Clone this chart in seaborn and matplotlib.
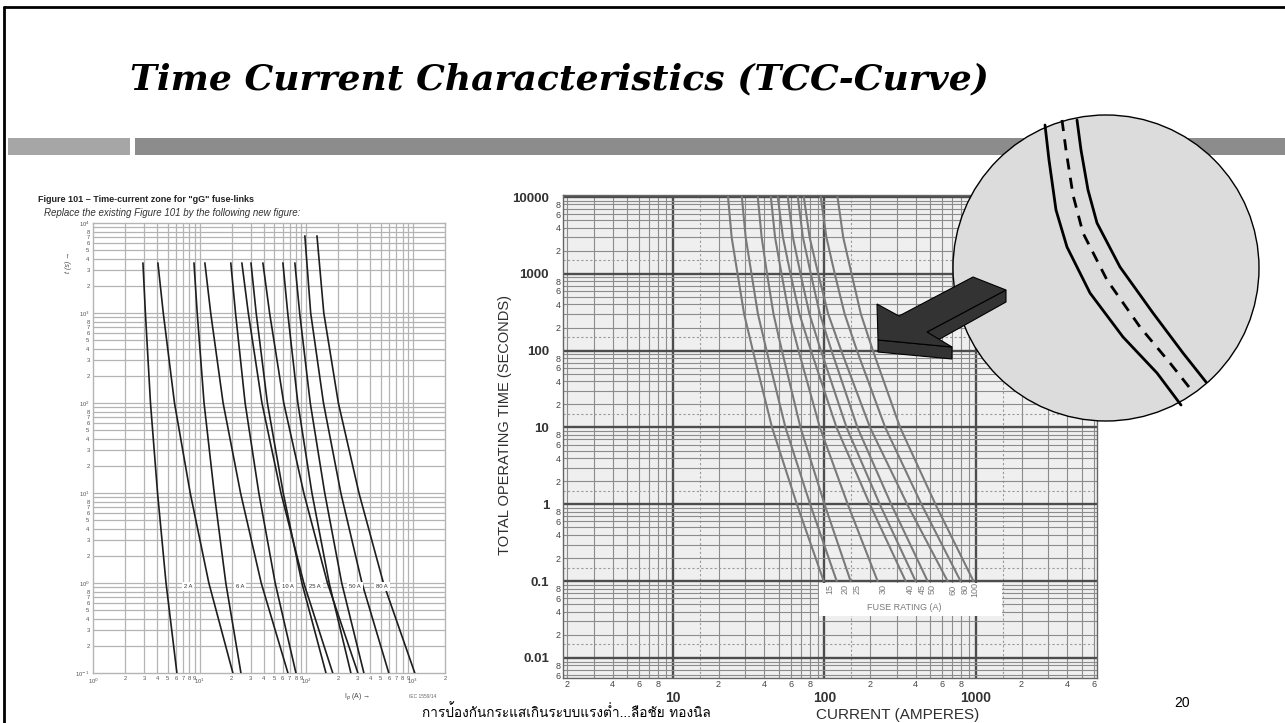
import pandas as pd
import matplotlib
matplotlib.use("Agg")
import matplotlib.pyplot as plt
import seaborn as sns
from matplotlib import font_manager
from matplotlib.patches import Rectangle, Circle, Polygon
from matplotlib.ticker import FixedLocator, FixedFormatter

W, H = 1285, 723

# ---- left chart: IEC figure 101, time-current zones for gG fuse-links ----
gg_times_1h = [3600, 1000, 100, 10, 1, 0.1]
gg_times_2h = [7200, 1000, 100, 10, 1, 0.1]
gg_2a_lo = [2.94, 3.10, 3.46, 4.03, 4.84, 6.12]
gg_2a_hi = [4.06, 4.56, 5.81, 8.16, 12.2, 20.5]
gg_6a_lo = [8.85, 9.49, 11.0, 13.7, 17.6, 24.4]
gg_6a_hi = [11.2, 12.7, 16.6, 24.2, 37.8, 67.3]
gg_10a_lo = [19.6, 21.7, 26.7, 35.9, 51.1, 80.0]
gg_10a_hi = [24.9, 28.6, 38.4, 57.9, 94.8, 177]
gg_25a_lo = [30.3, 33.9, 43.2, 60.8, 91.0, 153]
gg_25a_hi = [39.2, 45.3, 61.5, 94.8, 158, 305]
gg_50a_lo = [60.4, 67.0, 83.4, 113, 164, 262]
gg_50a_hi = [78.2, 86.7, 109, 149, 215, 347]
gg_80a_lo = [97.0, 110, 145, 211, 333, 594]
gg_80a_hi = [126, 146, 200, 312, 529, 1042]
gg_labels = ['2 A', '6 A', '10 A', '25 A', '50 A', '80 A']
gg_label_x = [7.8, 23.9, 67, 120, 285, 511]

# ---- right chart: total operating time vs current ----
tcc_times = [10000, 3000, 1000, 300, 100, 10, 1, 0.1]
tcc_15 = [23.1, 24.4, 26.7, 29.5, 33.7, 45.1, 65.8, 98.9]
tcc_20 = [28.5, 30.2, 33.0, 36.4, 41.5, 55.3, 80.5, 120.5]
tcc_25 = [36.3, 38.5, 41.8, 46.1, 52.4, 69.5, 100.2, 148.9]
tcc_30 = [44.3, 47.2, 52.1, 58.3, 67.5, 93.3, 142.6, 224.4]
tcc_40 = [49.2, 53.2, 59.7, 68.4, 81.5, 120.2, 199.5, 343.6]
tcc_45 = [57.3, 61.9, 69.5, 79.6, 94.8, 140, 232, 400]
tcc_50 = [66.7, 72.1, 81.3, 93.3, 111.4, 165.2, 276, 480]
tcc_60 = [73.1, 79.8, 91.0, 105.9, 129.1, 200, 352, 650]
tcc_80 = [94.6, 103, 117, 136, 164, 252, 437, 792]
tcc_100 = [122, 133, 151, 174, 209, 316, 541, 964]
fuse_ratings = ['15', '20', '25', '30', '40', '45', '50', '60', '80', '100']
fuse_label_x = [109, 137, 165, 245, 369, 441, 513, 705, 846, 985]

# ---- magnified band inside the circle (slide pixels) ----
band_lo_x = [1045, 1049, 1056, 1067, 1090, 1123, 1157, 1181]
band_lo_y = [125, 160, 210, 247, 293, 337, 373, 405]
band_mid_x = [1062, 1066, 1073, 1083, 1107, 1140, 1170, 1189]
band_mid_y = [120, 150, 195, 233, 280, 327, 363, 387]
band_hi_x = [1077, 1081, 1088, 1097, 1120, 1153, 1183, 1206]
band_hi_y = [120, 150, 190, 223, 267, 313, 353, 382]

sns.set_theme(style="white")
plt.rcParams['font.family'] = ['Liberation Sans', 'DejaVu Sans']

thai = None
for f in font_manager.fontManager.ttflist:
    if 'thai' in f.name.lower() or f.name in ('Loma', 'Garuda', 'Norasi', 'Waree', 'Kinnari', 'Sawasdee', 'Umpush', 'Laksaman', 'Tlwg Typo'):
        thai = f.name
        break
thai_family = [thai, 'DejaVu Sans'] if thai else ['DejaVu Sans']


def rect(x0, y0, x1, y1):
    return [x0 / W, 1 - y1 / H, (x1 - x0) / W, (y1 - y0) / H]


fig = plt.figure(figsize=(W / 100, H / 100), dpi=100, facecolor='white')

# ---------------- left chart ----------------
axL = fig.add_axes(rect(93, 223, 445, 673))
axL.set(xscale='log', yscale='log')
axL.set_xlim(1, 2000)
axL.set_ylim(0.1, 10000)
axL.set_facecolor('white')

for k in range(0, 4):
    for m in range(1, 10):
        v = m * 10.0 ** k
        if 1 < v < 2000:
            axL.axvline(v, color='#b4b4b4', lw=0.9, zorder=1)
for k in range(-1, 4):
    for m in range(1, 10):
        v = m * 10.0 ** k
        if 0.1 < v < 10000:
            axL.axhline(v, color='#b4b4b4', lw=0.9, zorder=1)

left_sets = [gg_2a_lo, gg_2a_hi, gg_6a_lo, gg_6a_hi, gg_10a_lo, gg_10a_hi,
             gg_25a_lo, gg_25a_hi, gg_50a_lo, gg_50a_hi, gg_80a_lo, gg_80a_hi]
rows = []
for i, cur in enumerate(left_sets):
    times = gg_times_2h if i >= 10 else gg_times_1h
    for c, t in zip(cur, times):
        rows.append({'curve': i, 'current': c, 'time': t})
df_left = pd.DataFrame(rows)
sns.lineplot(data=df_left, x='current', y='time', units='curve', estimator=None,
             sort=False, color='#1e1e1e', lw=1.2, legend=False, ax=axL, zorder=3)

for lab, x in zip(gg_labels, gg_label_x):
    axL.text(x, 0.92, lab, ha='center', va='center', fontsize=4.2, color='#333333', zorder=5,
             bbox=dict(boxstyle='square,pad=0.35', fc='white', ec='none'))

axL.xaxis.set_major_locator(FixedLocator([1, 10, 100, 1000]))
axL.xaxis.set_major_formatter(FixedFormatter(['10$^0$', '10$^1$', '10$^2$', '10$^3$']))
xm = [m * 10.0 ** k for k in range(0, 4) for m in range(2, 10) if m * 10.0 ** k <= 2000]
axL.xaxis.set_minor_locator(FixedLocator(xm))
axL.xaxis.set_minor_formatter(FixedFormatter([str(m) for k in range(0, 4) for m in range(2, 10)
                                              if m * 10.0 ** k <= 2000]))
axL.yaxis.set_major_locator(FixedLocator([0.1, 1, 10, 100, 1000, 10000]))
axL.yaxis.set_major_formatter(FixedFormatter(['10$^{-1}$', '10$^0$', '10$^1$', '10$^2$', '10$^3$', '10$^4$']))
ym = [m * 10.0 ** k for k in range(-1, 4) for m in range(2, 10)]
axL.yaxis.set_minor_locator(FixedLocator(ym))
axL.yaxis.set_minor_formatter(FixedFormatter([str(m) if m < 9 else '' for k in range(-1, 4) for m in range(2, 10)]))
axL.tick_params(which='both', length=0, labelsize=4.2, labelcolor='#555555', pad=2.5)
for s in axL.spines.values():
    s.set_color('#b4b4b4')
    s.set_linewidth(1)
axL.set_xlabel('')
axL.set_ylabel('')

# ---------------- right chart ----------------
xlo, xhi = 1.88, 6300
ylo, yhi = 0.00549, 10620
axR = fig.add_axes(rect(563, 195, 1097, 678))
axR.set(xscale='log', yscale='log')
axR.set_xlim(xlo, xhi)
axR.set_ylim(ylo, yhi)
axR.set_facecolor('#efefef')

for k in range(0, 4):
    for m in range(1, 10):
        v = m * 10.0 ** k
        if xlo < v < xhi:
            axR.axvline(v, color='#4d4d4d' if m == 1 else '#8c8c8c', lw=1.7 if m == 1 else 0.8, zorder=1)
    v = 1.5 * 10.0 ** k
    if xlo < v < xhi:
        axR.axvline(v, color='#9a9a9a', lw=0.8, ls=(0, (2, 2)), zorder=1)
for k in range(-3, 5):
    for m in range(1, 10):
        v = m * 10.0 ** k
        if ylo < v < yhi:
            axR.axhline(v, color='#4d4d4d' if m == 1 else '#8c8c8c', lw=1.7 if m == 1 else 0.8, zorder=1)
    v = 1.5 * 10.0 ** k
    if ylo < v < yhi:
        axR.axhline(v, color='#9a9a9a', lw=0.8, ls=(0, (2, 2)), zorder=1)

right_sets = [tcc_15, tcc_20, tcc_25, tcc_30, tcc_40, tcc_45, tcc_50, tcc_60, tcc_80, tcc_100]
rows = []
for name, cur in zip(fuse_ratings, right_sets):
    for c, t in zip(cur, tcc_times):
        rows.append({'fuse': name, 'current': c, 'time': t})
df_right = pd.DataFrame(rows)
sns.lineplot(data=df_right, x='current', y='time', units='fuse', estimator=None,
             sort=False, color='#7a7a7a', lw=1.5, legend=False, ax=axR, zorder=3)

axR.add_patch(Rectangle((92, 0.035), 1480 - 92, 0.095 - 0.035, fc='white', ec='none', zorder=4))
for lab, x in zip(fuse_ratings, fuse_label_x):
    axR.text(x, 0.078, lab, rotation=90, ha='center', va='center', fontsize=6.5, color='#7a7a7a', zorder=5)
axR.text(334, 0.046, 'FUSE RATING (A)', ha='center', va='center', fontsize=6.5, color='#7a7a7a', zorder=5)

axR.yaxis.set_major_locator(FixedLocator([0.01, 0.1, 1, 10, 100, 1000, 10000]))
axR.yaxis.set_major_formatter(FixedFormatter(['0.01', '0.1', '1', '10', '100', '1000', '10000']))
rym = [m * 10.0 ** k for k in range(-3, 4) for m in (2, 4, 6, 8) if ylo <= m * 10.0 ** k <= yhi]
rym_lab = [str(m) for k in range(-3, 4) for m in (2, 4, 6, 8) if ylo <= m * 10.0 ** k <= yhi]
axR.yaxis.set_minor_locator(FixedLocator(rym))
axR.yaxis.set_minor_formatter(FixedFormatter(rym_lab))
rxm = [m * 10.0 ** k for k in range(0, 4) for m in (2, 4, 6, 8) if xlo <= m * 10.0 ** k <= xhi]
rxm_lab = [str(m) for k in range(0, 4) for m in (2, 4, 6, 8) if xlo <= m * 10.0 ** k <= xhi]
axR.xaxis.set_major_locator(FixedLocator([10, 100, 1000]))
axR.xaxis.set_major_formatter(FixedFormatter(['10', '100', '1000']))
axR.xaxis.set_minor_locator(FixedLocator(rxm))
axR.xaxis.set_minor_formatter(FixedFormatter(rxm_lab))
axR.tick_params(axis='y', which='major', length=9, width=1, color='#555555', pad=1, labelsize=9.5, labelcolor='#333333')
axR.tick_params(axis='x', which='major', length=9, width=1.5, color='#555555', pad=0.5, labelsize=10, labelcolor='#333333')
axR.tick_params(which='minor', length=0, pad=1.5, labelsize=6.5, labelcolor='#444444')
for lab in axR.get_yticklabels() + axR.get_xticklabels():
    lab.set_fontweight('bold')
for s in axR.spines.values():
    s.set_color('#666666')
    s.set_linewidth(1)
axR.set_xlabel('')
axR.set_ylabel('')

# ---------------- slide overlay ----------------
ov = fig.add_axes([0, 0, 1, 1], zorder=10)
ov.set_xlim(0, W)
ov.set_ylim(H, 0)
ov.axis('off')
ov.patch.set_alpha(0)

ov.plot([4, W], [7, 7], color='black', lw=2, clip_on=False)
ov.plot([4, 4], [7, H], color='black', lw=2, clip_on=False)
ov.add_patch(Rectangle((8, 138), 122, 17, fc='#a6a6a6', ec='none', zorder=1))
ov.add_patch(Rectangle((135, 138), W - 135, 17, fc='#8c8c8c', ec='none', zorder=1))

ov.text(130, 79, 'Time Current Characteristics (TCC-Curve)', fontsize=26, fontweight='bold',
        fontstyle='italic', family=['DejaVu Serif'], va='center', ha='left', color='black')

ov.text(38, 199, 'Figure 101 \u2013 Time-current zone for "gG" fuse-links', fontsize=6.5,
        fontweight='bold', va='center', ha='left', color='#222222')
ov.text(44, 213, 'Replace the existing Figure 101 by the following new figure:', fontsize=7,
        fontstyle='italic', va='center', ha='left', color='#333333')
ov.text(68, 262, 't (s) \u2192', rotation=90, fontsize=5, fontstyle='italic', ha='center', va='center', color='#444444')
ov.text(357, 697, 'I$_p$ (A) \u2192', fontsize=5, ha='center', va='center', color='#444444')
ov.text(423, 697, 'IEC 1559/14', fontsize=3.5, ha='center', va='center', color='#666666')

ov.text(505, 425, 'TOTAL OPERATING TIME (SECONDS)', rotation=90, fontsize=10.5, ha='center',
        va='center', color='#2e2e2e')
ov.text(898, 715, 'CURRENT (AMPERES)', fontsize=11, ha='center', va='center', color='#2e2e2e')

ov.text(566, 712, 'การป้องกันกระแสเกินระบบแรงต่ำ...ลือชัย ทองนิล', fontsize=9.8, family=thai_family,
        ha='center', va='center', color='black')
ov.text(1182, 703, '20', fontsize=10, ha='center', va='center', color='black')

# magnified view and arrow
ov.add_patch(Circle((1106, 268), 153, fc='#dcdcdc', ec='black', lw=1, zorder=2))
ov.plot(band_lo_x, band_lo_y, color='black', lw=2, zorder=3)
ov.plot(band_hi_x, band_hi_y, color='black', lw=2, zorder=3)
ov.plot(band_mid_x, band_mid_y, color='black', lw=2, ls=(0, (4, 3)), zorder=3)

arrow_kw = dict(fc='#333333', ec='black', lw=0.8, joinstyle='miter', zorder=4)
ov.add_patch(Polygon([(1006, 290), (1006, 302), (938, 340), (927, 332)], **arrow_kw))
ov.add_patch(Polygon([(878, 340), (952, 347), (952, 359), (878, 352)], **arrow_kw))
ov.add_patch(Polygon([(878, 340), (877, 304), (899, 316), (973, 277), (1006, 290), (927, 332), (952, 347)],
                     **arrow_kw))

fig.savefig('out.png', dpi=100, facecolor='white')
